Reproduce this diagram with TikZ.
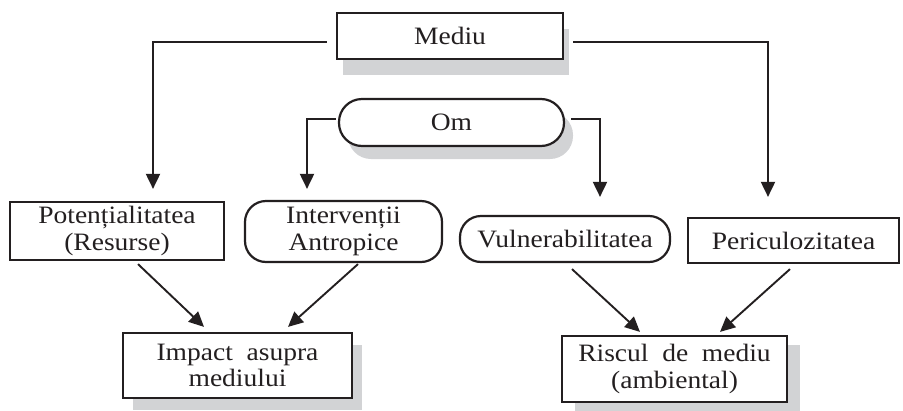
\documentclass[tikz,border=0pt]{standalone}
\usepackage{fontspec}
\setmainfont{Liberation Serif}[FakeStretch=1.1]
\usetikzlibrary{arrows.meta,shadows}
\definecolor{shadowgray}{RGB}{210,211,213}
\definecolor{ink}{RGB}{35,31,32}
\tikzset{
  box/.style={draw=ink, line width=2.2pt, fill=white, text=ink, align=center,
    inner sep=0pt, font=\fontsize{25}{26.5}\selectfont},
  sq/.style={box},
  rnd/.style={box, rounded corners=21pt},
  shad/.style 2 args={drop shadow={shadow xshift=#1pt, shadow yshift=-#2pt,
    fill=shadowgray, draw=none, opacity=1}},
  conn/.style={draw=ink, line width=1.9pt, -{Triangle[length=15pt,width=14pt]}},
}
\begin{document}
\begin{tikzpicture}[x=1pt,y=-1pt]
\useasboundingbox (0,0) rectangle (903,410);

\node[sq, shad={6}{16}, minimum width=226pt, minimum height=46pt] (mediu) at (450,36) {Mediu};
\node[rnd, rounded corners=23pt, shad={9}{13}, minimum width=225pt, minimum height=47pt] (om) at (451.5,122.5) {Om};

\node[sq, minimum width=214pt, minimum height=58pt] (pot) at (117,231) {Potențialitatea\\(Resurse)};
\node[rnd, minimum width=197pt, minimum height=61pt] (interv) at (343.5,231.5) {Intervenții\\Antropice};
\node[rnd, minimum width=210pt, minimum height=46pt] (vuln) at (565,239) {Vulnerabilitatea};
\node[sq, minimum width=211pt, minimum height=45pt] (peric) at (793.5,240.5) {Periculozitatea};

\node[sq, shad={10}{12}, minimum width=229pt, minimum height=65pt] (impact) at (237.5,365.5) {Impact\ \ asupra\\mediului};
\node[sq, shad={13}{9}, minimum width=225pt, minimum height=66pt] (risc) at (674.5,369) {Riscul\ \ de\ \ mediu\\(ambiental)};

% connectors from Mediu
\draw[conn] ([shift={(-9,6)}]mediu.west) -| ([shift={(36,-12)}]pot.north);
\draw[conn] ([shift={(9,6)}]mediu.east) -| ([shift={(-25.5,-20)}]peric.north);
% connectors from Om
\draw[conn] ([shift={(-2,-3.5)}]om.west) -| ([shift={(-36.5,-11)}]interv.north);
\draw[conn] ([shift={(6,-3.5)}]om.east) -| ([shift={(35,-18)}]vuln.north);
% diagonals
\draw[conn] ([shift={(21,3)}]pot.south) -- ([shift={(-33.5,-5)}]impact.north);
\draw[conn] ([shift={(14.5,1)}]interv.south) -- ([shift={(50.5,-5)}]impact.north);
\draw[conn] ([shift={(7,6)}]vuln.south) -- ([shift={(-34.5,-3)}]risc.north);
\draw[conn] ([shift={(-3.5,5)}]peric.south) -- ([shift={(45.5,-3)}]risc.north);
\end{tikzpicture}
\end{document}
